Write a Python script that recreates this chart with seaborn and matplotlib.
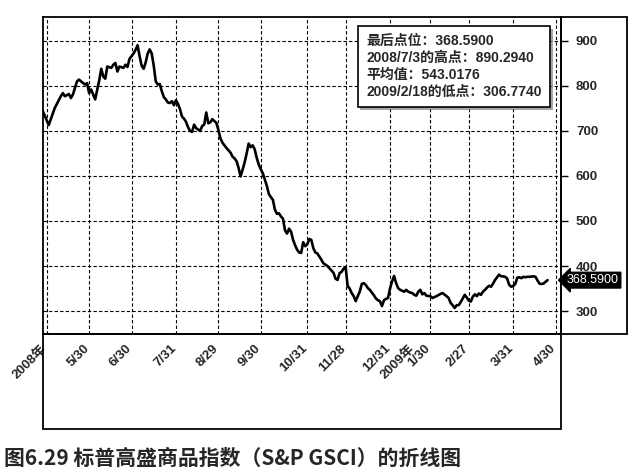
import matplotlib
matplotlib.use("Agg")
import matplotlib.pyplot as plt
import matplotlib.patheffects as pe
import matplotlib.transforms as mtransforms
from matplotlib.patches import Rectangle
import seaborn as sns

# S&P GSCI daily close, x = trading day counted from 2008-04-30 (day 0)
days = [-2, 1, 4, 7, 8, 9, 11, 12, 13, 15, 16, 17, 19, 20, 21, 22, 23, 24, 26, 27,
        28, 29, 30, 32, 33, 34, 35, 36, 38, 39, 40, 41, 42, 43, 44, 45, 46, 47, 48, 49,
        50, 51, 52, 53, 54, 55, 56, 57, 58, 59, 60, 61, 62, 63, 64, 65, 66, 67, 68, 69,
        70, 71, 72, 73, 74, 75, 76, 77, 78, 79, 80, 81, 82, 83, 84, 85, 86, 87, 88, 89,
        90, 91, 92, 93, 94, 95, 96, 97, 98, 99, 100, 101, 102, 103, 104, 105, 106, 107, 108, 109,
        110, 111, 112, 113, 114, 115, 116, 117, 118, 119, 120, 121, 122, 123, 124, 125, 126, 127, 128, 129,
        130, 131, 132, 133, 134, 135, 136, 137, 138, 139, 140, 141, 142, 143, 144, 145, 146, 147, 148, 149,
        150, 151, 152, 153, 154, 155, 156, 157, 158, 159, 160, 161, 162, 163, 164, 165, 166, 167, 168, 169,
        170, 171, 172, 173, 174, 175, 176, 177, 178, 179, 180, 181, 182, 183, 184, 185, 186, 187, 188, 190,
        191, 193, 195, 196, 198, 199, 200, 201, 202, 203, 204, 205, 206, 207, 208, 209, 210, 211, 212, 213,
        214, 215, 216, 217, 218, 219, 220, 221, 222, 223, 224, 225, 226, 227, 228, 229, 230, 231, 232, 233,
        234, 235, 236, 237, 238, 239, 241, 242, 243, 244, 245, 246, 247, 248]
gsci = [745, 713, 751, 777, 784, 777, 782, 773, 781, 810, 814, 810, 803, 806, 784, 792, 781, 770, 812, 838,
        821, 816, 843, 840, 847, 851, 832, 843, 840, 847, 842, 860, 866, 872, 880, 890.294, 866, 845, 838, 852,
        872, 881, 872, 845, 810, 803, 804, 788, 775, 770, 763, 762, 766, 757, 768, 760, 748, 732, 727, 720,
        708, 700, 698, 714, 706, 703, 700, 711, 714, 741, 717, 719, 726, 722, 718, 702, 684, 674, 668, 662,
        657, 652, 643, 639, 633, 618, 599, 614, 630, 650, 672, 664, 668, 659, 640, 625, 615, 606, 592, 578,
        560, 553, 547, 525, 516, 517, 510, 505, 479, 472, 483, 476, 458, 446, 436, 430, 429, 453, 444, 448,
        460, 458, 440, 430, 428, 421, 414, 406, 403, 400, 395, 390, 385, 372, 369, 384, 387, 394, 398, 356,
        350, 340, 333, 322, 333, 343, 360, 362, 358, 351, 347, 341, 335, 328, 324, 322, 311, 324, 327, 329,
        350, 366, 378, 362, 351, 347, 345, 343, 347, 343, 341, 340, 336, 334, 343, 347, 337, 340, 334, 333,
        329, 333, 338, 340, 333, 329, 318, 313, 306.774, 313, 313, 320, 328, 336, 330, 323, 321, 332, 337, 333,
        339, 336, 343, 347, 352, 356, 354, 361, 369, 375, 381, 377, 377, 376, 372, 358, 354, 356, 360, 374,
        375, 373, 376, 375, 376, 376, 377, 376, 368, 361, 360, 361, 365, 368.59]

tick_days = [0, 21, 42, 64, 85, 106, 129, 148, 170, 190, 209, 231, 252]
tick_labels = ['2008年', '5/30', '6/30', '7/31', '8/29', '9/30', '10/31', '11/28',
               '12/31', '1/30', '2/27', '3/31', '4/30']
year2_day = [182]
year2_label = ['2009年']

info_lines = ['最后点位：368.5900',
              '2008/7/3的高点：890.2940',
              '平均值：543.0176',
              '2009/2/18的低点：306.7740']
last_value = 368.59
caption = '图6.29 标普高盛商品指数（S&P GSCI）的折线图'

sns.set_style('white')
plt.rcParams['font.family'] = ['Liberation Sans', 'Noto Sans CJK SC']
plt.rcParams['axes.unicode_minus'] = False

fig = plt.figure(figsize=(6.4, 4.74), dpi=100)
W, H = 640, 474
ax = fig.add_axes([43 / W, 140 / H, 517.7 / W, 317 / H])

sns.lineplot(x=days, y=gsci, ax=ax, color='black', linewidth=1.9)

ax.set_xlim(-1.83, 254.5)
ax.set_ylim(249, 953)

ax.set_xticks(tick_days)
ax.set_xticklabels(tick_labels)
ax.set_xticks(year2_day, minor=True)
ax.set_xticklabels(year2_label, minor=True)
ax.tick_params(axis='x', which='major', direction='out', length=5, width=1, color='black', pad=1, labelsize=9.5)
ax.tick_params(axis='x', which='minor', length=0, pad=6, labelsize=9.5)
shift = mtransforms.ScaledTranslation(-0.06, 0, fig.dpi_scale_trans)
for lab in ax.get_xticklabels() + ax.get_xticklabels(minor=True):
    lab.set_rotation(45)
    lab.set_ha('right')
    lab.set_rotation_mode('anchor')
    lab.set_fontweight('bold')
    lab.set_transform(lab.get_transform() + shift)

ax.yaxis.tick_right()
ax.set_yticks(range(300, 1000, 100))
ax.tick_params(axis='y', direction='out', length=5, width=1, color='black', pad=6, labelsize=9.5)
for lab in ax.get_yticklabels():
    lab.set_fontweight('bold')

ax.grid(True, which='major', color='black', linestyle=(0, (3, 2)), linewidth=0.8)
ax.set_xlabel('')
ax.set_ylabel('')
for s in ax.spines.values():
    s.set_color('black')
    s.set_linewidth(1.3)

# outer frame: y label panel on the right and date panel underneath
fig.add_artist(Rectangle((560.7 / W, 140 / H), 66.3 / W, 317 / H, transform=fig.transFigure,
                         fill=False, edgecolor='black', linewidth=1.3))
fig.add_artist(Rectangle((43 / W, 45 / H), 517.7 / W, 95 / H, transform=fig.transFigure,
                         fill=False, edgecolor='black', linewidth=1.3))

# stats box
t = ax.text(0.624, 0.945, '\n'.join(info_lines), transform=ax.transAxes, va='top', ha='left',
            fontsize=10, fontweight='bold', linespacing=1.25,
            bbox=dict(boxstyle='square,pad=0.6', facecolor='white', edgecolor='black', linewidth=1.2))
t.get_bbox_patch().set_path_effects([pe.withSimplePatchShadow(offset=(2, -2), shadow_rgbFace='gray', alpha=0.7)])

# last value tag
tag_tr = mtransforms.blended_transform_factory(ax.transAxes, ax.transData)
ax.text(1.012, last_value, '368.5900', transform=tag_tr, va='center', ha='left',
        fontsize=9, color='white', clip_on=False,
        bbox=dict(boxstyle='larrow,pad=0.15', facecolor='black', edgecolor='black'))

fig.text(4 / W, 16 / H, caption, fontsize=15, fontweight='bold', va='center', ha='left',
         family=['Noto Sans CJK SC'])

fig.savefig('out.png', dpi=100)
